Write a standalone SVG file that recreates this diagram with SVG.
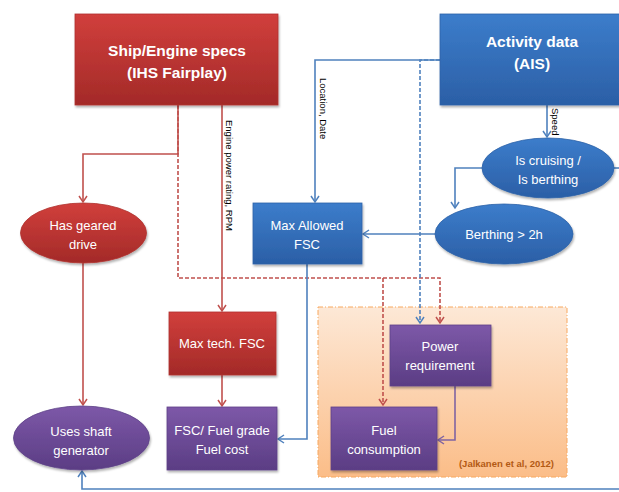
<svg xmlns="http://www.w3.org/2000/svg" width="619" height="492" viewBox="0 0 619 492">
<defs>
<linearGradient id="gRed" x1="0" y1="0" x2="0" y2="1"><stop offset="0" stop-color="#d13f3c"/><stop offset="1" stop-color="#a32a28"/></linearGradient>
<linearGradient id="gBlue" x1="0" y1="0" x2="0" y2="1"><stop offset="0" stop-color="#3c7dcb"/><stop offset="1" stop-color="#2b5fa6"/></linearGradient>
<linearGradient id="gPurple" x1="0" y1="0" x2="0" y2="1"><stop offset="0" stop-color="#7d58a8"/><stop offset="1" stop-color="#5b3d84"/></linearGradient>
<linearGradient id="gOrange" x1="0" y1="0" x2="0" y2="1"><stop offset="0" stop-color="#fde8d6"/><stop offset="1" stop-color="#fbbd88"/></linearGradient>
<filter id="sh" x="-10%" y="-10%" width="130%" height="130%"><feDropShadow dx="1" dy="2" stdDeviation="1.2" flood-color="#000" flood-opacity="0.3"/></filter>
<marker id="aR" markerWidth="10" markerHeight="10" refX="8" refY="5" orient="auto" markerUnits="userSpaceOnUse"><path d="M2,1 L8,5 L2,9" fill="none" stroke="#c0504d" stroke-width="1.5"/></marker>
<marker id="aB" markerWidth="10" markerHeight="10" refX="8" refY="5" orient="auto" markerUnits="userSpaceOnUse"><path d="M2,1 L8,5 L2,9" fill="none" stroke="#4f81bd" stroke-width="1.5"/></marker>
<marker id="aP" markerWidth="10" markerHeight="10" refX="8" refY="5" orient="auto" markerUnits="userSpaceOnUse"><path d="M2,1 L8,5 L2,9" fill="none" stroke="#8064a2" stroke-width="1.5"/></marker>
</defs>
<style>
.t{font-family:"Liberation Sans",Arial,sans-serif;fill:#fff;text-anchor:middle;font-size:13px}
.tb{font-family:"Liberation Sans",Arial,sans-serif;fill:#fff;text-anchor:middle;font-size:15.5px;font-weight:bold}
.lab{font-family:"Liberation Sans",Arial,sans-serif;fill:#000;font-size:9.5px}
.red{fill:url(#gRed);stroke:#b03330;stroke-width:0.8;filter:url(#sh)}
.blue{fill:url(#gBlue);stroke:#2f63a8;stroke-width:0.8;filter:url(#sh)}
.pur{fill:url(#gPurple);stroke:#5e4288;stroke-width:0.8;filter:url(#sh)}
.cr{fill:none;stroke:#c0504d;stroke-width:1.6}
.cb{fill:none;stroke:#4f81bd;stroke-width:1.6}
.cp{fill:none;stroke:#8064a2;stroke-width:1.6}
.dash{stroke-dasharray:4 2}
</style>

<g id="zone-jalkanen">
<rect x="318" y="307" width="249" height="170" fill="url(#gOrange)" stroke="#f8a85e" stroke-width="1" stroke-dasharray="5 2 1 2"/>
<text x="554" y="467" text-anchor="end" font-family="Liberation Sans,Arial,sans-serif" font-size="9.5" font-weight="bold" fill="#b35a14">(Jalkanen et al, 2012)</text>
</g>

<g id="connectors">
<path class="cr" d="M178,105 V154 H83 V202" marker-end="url(#aR)"/>
<path class="cr dash" d="M178,105 V278 H440 V323" marker-end="url(#aR)"/>
<path class="cr dash" d="M383,278 V405" marker-end="url(#aR)"/>
<path class="cr" d="M222,105 V311" marker-end="url(#aR)"/>
<text class="lab" transform="translate(226,120) rotate(90)">Engine power rating, RPM</text>
<path class="cr" d="M83,263 V405" marker-end="url(#aR)"/>
<path class="cr" d="M222,375 V406" marker-end="url(#aR)"/>
<path class="cb" d="M440,60 H315 V202" marker-end="url(#aB)"/>
<text class="lab" transform="translate(320,78) rotate(90)">Location, Date</text>
<path class="cb dash" d="M440,60 H420 V323" marker-end="url(#aB)"/>
<path class="cb" d="M547,105 V137" marker-end="url(#aB)"/>
<text class="lab" transform="translate(552,108) rotate(90)">Speed</text>
<path class="cb" d="M482,168 H455 V208" marker-end="url(#aB)"/>
<path class="cb" d="M614,168 H619"/>
<path class="cb" d="M435,234 H363" marker-end="url(#aB)"/>
<path class="cb" d="M307,264 V439 H278" marker-end="url(#aB)"/>
<path class="cb" d="M619,489 H82 V471" marker-end="url(#aB)"/>
<path class="cp" d="M455,386 V440 H438" marker-end="url(#aP)"/>
</g>

<g id="ship-engine-specs">
<rect class="red" x="75" y="14" width="203" height="91"/>
<text class="tb" x="177" y="56">Ship/Engine specs</text>
<text class="tb" x="177" y="78">(IHS Fairplay)</text>
</g>

<g id="activity-data">
<rect class="blue" x="440" y="14" width="185" height="91"/>
<text class="tb" x="532" y="47">Activity data</text>
<text class="tb" x="532" y="69">(AIS)</text>
</g>

<g id="has-geared-drive">
<ellipse class="red" cx="83.5" cy="233" rx="63" ry="30"/>
<text class="t" x="83" y="230">Has geared</text>
<text class="t" x="83" y="249">drive</text>
</g>

<g id="max-allowed-fsc">
<rect class="blue" x="253" y="203" width="109" height="61"/>
<text class="t" x="307" y="230">Max Allowed</text>
<text class="t" x="307" y="249">FSC</text>
</g>

<g id="is-cruising">
<ellipse class="blue" cx="548" cy="168" rx="66" ry="30"/>
<text class="t" x="548" y="165">Is cruising /</text>
<text class="t" x="548" y="184">Is berthing</text>
</g>

<g id="berthing-2h">
<ellipse class="blue" cx="504" cy="234" rx="69" ry="30"/>
<text class="t" x="504" y="239">Berthing &gt; 2h</text>
</g>

<g id="max-tech-fsc">
<rect class="red" x="169" y="312" width="107" height="63"/>
<text class="t" x="222" y="348">Max tech. FSC</text>
</g>

<g id="fsc-fuel-grade">
<rect class="pur" x="167" y="407" width="110" height="63"/>
<text class="t" x="222" y="435">FSC/ Fuel grade</text>
<text class="t" x="222" y="454">Fuel cost</text>
</g>

<g id="uses-shaft-generator">
<ellipse class="pur" cx="81.5" cy="438" rx="68" ry="32"/>
<text class="t" x="81" y="436">Uses shaft</text>
<text class="t" x="81" y="455">generator</text>
</g>

<g id="power-requirement">
<rect class="pur" x="390" y="325" width="101" height="61"/>
<text class="t" x="440" y="351">Power</text>
<text class="t" x="440" y="370">requirement</text>
</g>

<g id="fuel-consumption">
<rect class="pur" x="331" y="407" width="106" height="63"/>
<text class="t" x="384" y="435">Fuel</text>
<text class="t" x="384" y="454">consumption</text>
</g>
</svg>
